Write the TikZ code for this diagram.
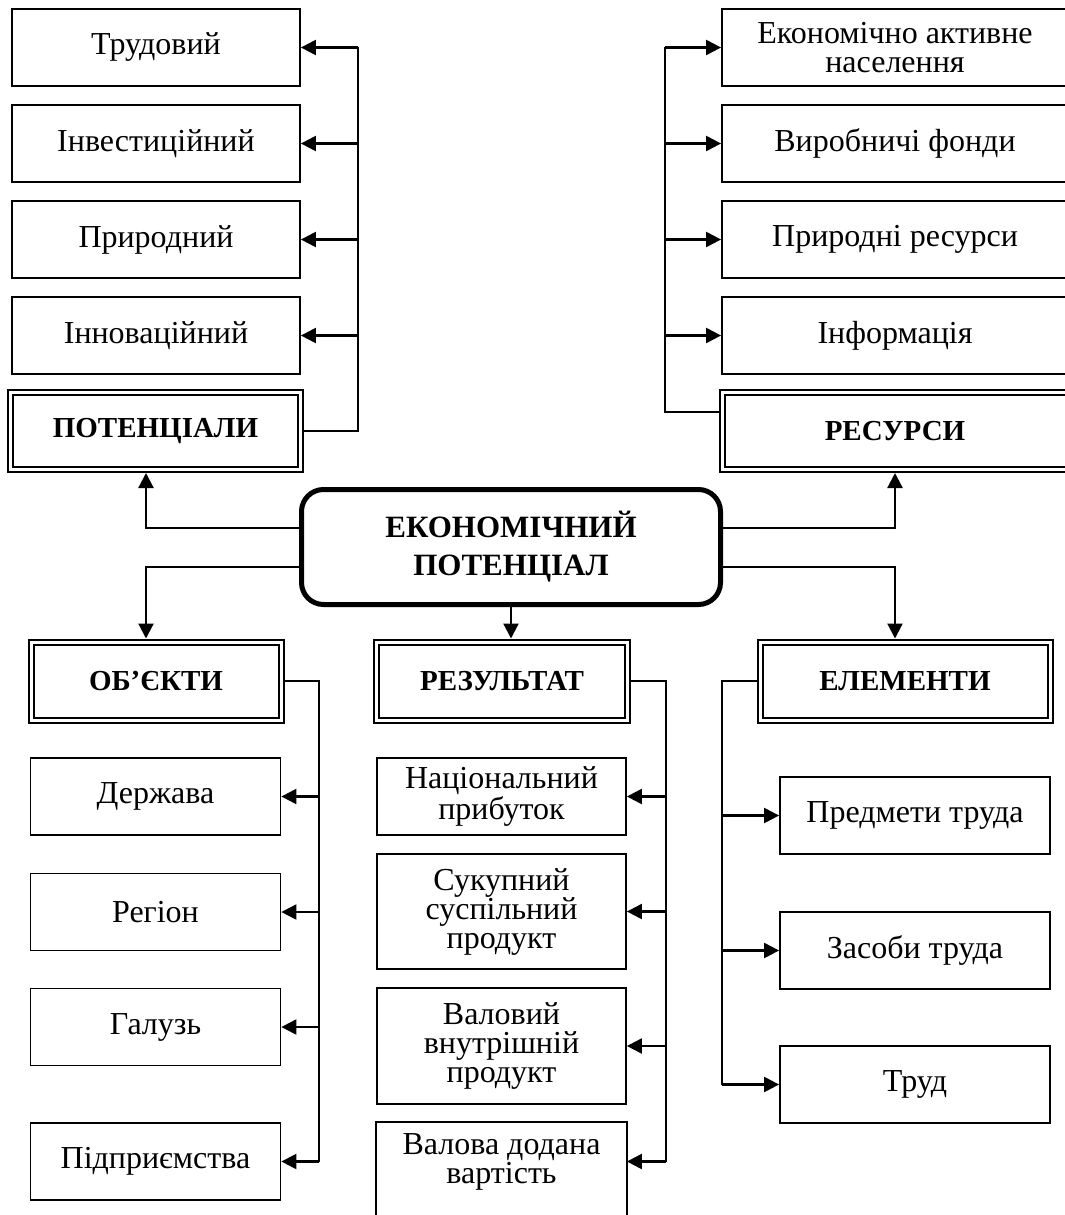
\documentclass[tikz,border=0pt]{standalone}
\usepackage{fontspec}
\setmainfont{Liberation Serif}
\usetikzlibrary{arrows.meta}

\begin{document}
\begin{tikzpicture}[x=1pt, y=-1pt,
  box/.style={draw, line width=1.8pt, minimum width=288pt, minimum height=77pt, inner sep=2pt, align=center, font=\fontsize{32}{29}\selectfont},
  head/.style={draw, line width=2pt, double, double distance=3pt, outer sep=3.5pt, minimum height=77pt, font=\bfseries\fontsize{29}{32}\selectfont},
  centr/.style={draw, line width=5pt, rounded corners=22pt, minimum width=419pt, minimum height=115pt, align=center, font=\bfseries\fontsize{31}{38}\selectfont},
  line/.style={line width=2pt},
  arr/.style={line width=2.2pt, -{Triangle[length=15pt,width=15pt]}}
  ]
\useasboundingbox (0,0) rectangle (1065,1215);

\node[box] (p1) at (156,47.5) {Трудовий};
\node[box] (p2) at (156,143.5) {Інвестиційний};
\node[box] (p3) at (156,239.5) {Природний};
\node[box] (p4) at (156,335.5) {Інноваційний};
\node[head, minimum width=290pt] (pot) at (155.5,431) {ПОТЕНЦІАЛИ};

\node[box, minimum width=346pt] (r1) at (895,47.5) {Економічно активне\\населення};
\node[box, minimum width=346pt] (r2) at (895,143.5) {Виробничі фонди};
\node[box, minimum width=346pt] (r3) at (895,239.5) {Природні ресурси};
\node[box, minimum width=346pt] (r4) at (895,335.5) {Інформація};
\node[head, minimum width=346pt] (res) at (895,431) {РЕСУРСИ};

\node[centr] (ep) at (511,547) {ЕКОНОМІЧНИЙ\\ПОТЕНЦІАЛ};

\node[head, minimum width=250pt, minimum height=78pt] (ob) at (156,681) {ОБ’ЄКТИ};
\node[head, minimum width=251pt, minimum height=78pt] (rez) at (502,681) {РЕЗУЛЬТАТ};
\node[head, minimum width=290pt, minimum height=78pt] (el) at (905,681) {ЕЛЕМЕНТИ};

\node[box, minimum width=250pt] (o1) at (155.5,796.5) {Держава};
\node[box, minimum width=250pt] (o2) at (155.5,912) {Регіон};
\node[box, minimum width=250pt] (o3) at (155.5,1027) {Галузь};
\node[box, minimum width=250pt] (o4) at (155.5,1161.5) {Підприємства};

\node[box, minimum width=249pt] (z1) at (501.5,796.5) {Національний\\прибуток};
\node[box, minimum width=249pt, minimum height=115pt] (z2) at (501.5,911.5) {Сукупний\\суспільний\\продукт};
\node[box, minimum width=249pt, minimum height=116pt] (z3) at (501.5,1046) {Валовий\\внутрішній\\продукт};
\node[box, draw=none, minimum width=249pt] (z4) at (501.5,1161.5) {Валова додана\\вартість};
\draw[line width=1.8pt] ([yshift=-60pt]z4.south west) -- (z4.north west) -- (z4.north east) -- ([yshift=-60pt]z4.south east);

\node[box, minimum width=270pt] (e1) at (915,815.5) {Предмети труда};
\node[box, minimum width=270pt] (e2) at (915,950.5) {Засоби труда};
\node[box, minimum width=270pt] (e3) at (915,1084.5) {Труд};

\coordinate (pb) at (358,0);
\coordinate (rb) at (665,0);
\coordinate (lx) at (146,0);
\coordinate (rx) at (895,0);
\coordinate (obus) at (319,0);
\coordinate (zbus) at (666,0);
\coordinate (ebus) at (722,0);

\draw[line] (pot.east) -| (pb |- p1.east);
\path[arr]
  (pb |- p1.east) edge (p1.east)
  (pb |- p2.east) edge (p2.east)
  (pb |- p3.east) edge (p3.east)
  (pb |- p4.east) edge (p4.east)
  ;

\draw[line] ([yshift=19pt]res.west) -| (rb |- r1.west);
\path[arr]
  (rb |- r1.west) edge (r1.west)
  (rb |- r2.west) edge (r2.west)
  (rb |- r3.west) edge (r3.west)
  (rb |- r4.west) edge (r4.west)
  ;

\draw[arr] ([yshift=19pt]ep.west) -| (lx |- pot.south);
\draw[arr] ([yshift=19pt]ep.east) -| (rx |- res.south);
\draw[arr] ([yshift=-20pt]ep.west) -| (lx |- ob.north);
\draw[arr] (ep.south) -- (ep.south |- rez.north);
\draw[arr] ([yshift=-20pt]ep.east) -| (rx |- el.north);

\draw[line] (ob.east) -| (obus |- o4.east);
\path[arr]
  (obus |- o1.east) edge (o1.east)
  (obus |- o2.east) edge (o2.east)
  (obus |- o3.east) edge (o3.east)
  (obus |- o4.east) edge (o4.east)
  ;

\draw[line] (rez.east) -| (zbus |- z4.east);
\path[arr]
  (zbus |- z1.east) edge (z1.east)
  (zbus |- z2.east) edge (z2.east)
  (zbus |- z3.east) edge (z3.east)
  (zbus |- z4.east) edge (z4.east)
  ;

\draw[line] (el.west) -| (ebus |- e3.west);
\path[arr]
  (ebus |- e1.west) edge (e1.west)
  (ebus |- e2.west) edge (e2.west)
  (ebus |- e3.west) edge (e3.west)
  ;
\end{tikzpicture}
\end{document}
